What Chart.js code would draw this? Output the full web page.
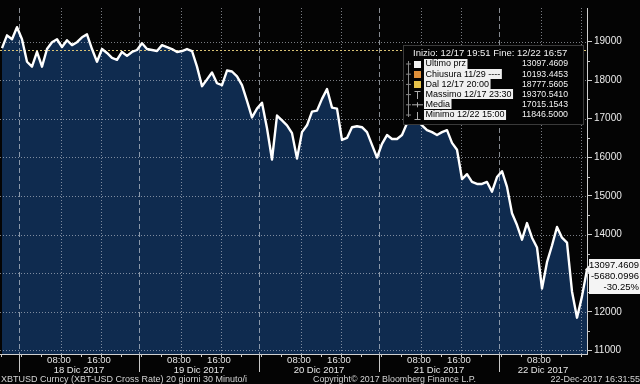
<!DOCTYPE html>
<html>
<head>
<meta charset="utf-8">
<script src="https://cdn.jsdelivr.net/npm/chart.js@4.4.1/dist/chart.umd.min.js"></script>
<style>
html,body{margin:0;padding:0;background:#000;}
canvas{display:block;}
</style>
</head>
<body>
<canvas id="c" width="640" height="384"></canvas>
<script>
// ---- data ----
const startHour = -3.8; // hours relative to 18 Dic 2017 00:00, one value per hour
const prices = [
  18830, 19160, 19058, 19370, 19058, 18476, 18349, 18729, 18349, 18805,
  18982, 19058, 18856, 19033, 18906, 18982, 19109, 19185, 18805, 18476,
  18805, 18704, 18577, 18527, 18729, 18628, 18729, 18780, 18957, 18805,
  18780, 18754, 18906, 18856, 18805, 18729, 18754, 18805, 18754, 18349,
  17843, 18020, 18197, 17919, 17868, 18248, 18223, 18096, 17868, 17463,
  17033, 17261, 17413, 16754, 15944, 17083, 16957, 16830, 16627, 15969,
  16653, 16830, 17185, 17210, 17514, 17767, 17286, 17261, 16450, 16501,
  16780, 16805, 16780, 16653, 16324, 15995, 16349, 16577, 16476, 16476,
  16577, 16881, 17033, 16957, 16830, 16704, 16653, 16577, 16653, 16704,
  16375, 16197, 15438, 15564, 15362, 15311, 15311, 15362, 15109, 15489,
  15640, 15235, 14551, 14247, 13867, 14298, 13918, 13665, 12602, 13285,
  13716, 14197, 13918, 13792, 12526, 11847, 12399, 13097
];
const yTicks = [11000, 12000, 13000, 14000, 15000, 16000, 17000, 18000, 19000];
const dayLabels = ['18 Dic 2017', '19 Dic 2017', '20 Dic 2017', '21 Dic 2017', '22 Dic 2017'];
const timeTicks = [['08:00', 8], ['16:00', 16]];
const legendHeader = 'Inizio: 12/17 19:51 Fine: 12/22 16:57';
const legendLabels = ['Ultimo prz', 'Chiusura 11/29 ----', 'Dal 12/17 20:00', 'Massimo 12/17 23:30', 'Media', 'Minimo 12/22 15:00'];
const legendValues = [13097.4609, 10193.4453, 18777.5605, 19370.5410, 17015.1543, 11846.5000];
const footerLeft = 'XBTUSD Curncy (XBT-USD Cross Rate) 20 giorni 30 Minuto/i';
const footerMid = 'Copyright\u00A9 2017 Bloomberg Finance L.P.';
const footerRight = '22-Dec-2017 16:31:55';

const lastPrice = legendValues[0];
const refLevel = legendValues[2];
const change = lastPrice - refLevel;
const changePct = change / refLevel * 100;

const points = prices.map((v, i) => ({x: startHour + i, y: v}));

const FONT = '"Liberation Sans", Arial, sans-serif';

const bbg = {
  id: 'bbg',
  beforeDraw(chart) {
    const ctx = chart.ctx;
    ctx.save();
    ctx.fillStyle = '#040404';
    ctx.fillRect(0, 0, chart.width, chart.height);
    ctx.restore();
  },
  afterDatasetDraw(chart, args) {
    if (args.index !== 1) return;
    const {ctx, chartArea: a, scales: {x, y}} = chart;
    ctx.save();
    ctx.beginPath();
    ctx.rect(a.left, a.top, a.right - a.left, a.bottom - a.top);
    ctx.clip();
    ctx.lineWidth = 1;
    ctx.strokeStyle = 'rgba(200,205,215,0.6)';
    ctx.setLineDash([1, 2]);
    yTicks.forEach(v => {
      const py = Math.round(y.getPixelForValue(v)) + 0.5;
      ctx.beginPath(); ctx.moveTo(a.left, py); ctx.lineTo(a.right, py); ctx.stroke();
    });
    for (let d = 0; d < dayLabels.length; d++) {
      timeTicks.forEach(t => {
        const h = d * 24 + t[1];
        if (h > x.max) return;
        const px = Math.round(x.getPixelForValue(h)) + 0.5;
        ctx.beginPath(); ctx.moveTo(px, a.top); ctx.lineTo(px, a.bottom); ctx.stroke();
      });
    }
    ctx.strokeStyle = 'rgba(205,210,220,0.65)';
    ctx.setLineDash([5, 3]);
    for (let d = 0; d < dayLabels.length; d++) {
      const px = Math.round(x.getPixelForValue(d * 24 - 0.4)) + 0.5;
      ctx.beginPath(); ctx.moveTo(px, a.top); ctx.lineTo(px, a.bottom); ctx.stroke();
    }
    ctx.strokeStyle = '#d9c274';
    ctx.setLineDash([2, 2]);
    const ry = Math.round(y.getPixelForValue(refLevel)) + 0.5;
    ctx.beginPath(); ctx.moveTo(a.left, ry); ctx.lineTo(a.right, ry); ctx.stroke();
    ctx.restore();
  },
  afterDraw(chart) {
    const {ctx, chartArea: a, scales: {x, y}} = chart;
    ctx.save();
    ctx.strokeStyle = '#c8c8c8';
    ctx.lineWidth = 1;
    for (let i = 0; i < yTicks.length - 1; i++) {
      const py = Math.round(y.getPixelForValue((yTicks[i] + yTicks[i + 1]) / 2)) + 0.5;
      ctx.beginPath(); ctx.moveTo(a.right, py); ctx.lineTo(a.right + 3, py); ctx.stroke();
    }
    for (let h = -4; h <= x.max; h += 4) {
      const px = Math.round(x.getPixelForValue(h)) + 0.5;
      if (px < a.left) continue;
      ctx.beginPath(); ctx.moveTo(px, a.bottom); ctx.lineTo(px, a.bottom + 3); ctx.stroke();
    }
    for (let d = 0; d < dayLabels.length; d++) {
      const px = Math.round(x.getPixelForValue(d * 24 - 0.4)) + 0.5;
      ctx.beginPath(); ctx.moveTo(px, a.bottom); ctx.lineTo(px, a.bottom + 18); ctx.stroke();
    }
    ctx.fillStyle = '#e6e6e6';
    ctx.font = '9.5px ' + FONT;
    ctx.textAlign = 'center';
    ctx.textBaseline = 'middle';
    for (let d = 0; d < dayLabels.length; d++) {
      timeTicks.forEach(t => {
        const h = d * 24 + t[1];
        if (h > x.max - 3) return;
        ctx.fillText(t[0], x.getPixelForValue(h) - 2, a.bottom + 6.5);
      });
      const s = x.getPixelForValue(d * 24 - 0.4);
      const e = Math.min(x.getPixelForValue((d + 1) * 24 - 0.4), a.right);
      ctx.fillText(dayLabels[d], (s + e) / 2, a.bottom + 16.5);
    }
    ctx.fillStyle = '#d4d4d4';
    ctx.font = '9px ' + FONT;
    ctx.textAlign = 'left';
    ctx.fillText(footerLeft, 1, 379.5, 248);
    ctx.fillText(footerMid, 313, 379.5, 163);
    ctx.textAlign = 'right';
    ctx.fillText(footerRight, 640, 379.5, 100);

    // legend box
    const bx = 403, by = 45, bw = 180, bh = 79;
    ctx.fillStyle = '#030303';
    ctx.fillRect(bx, by, bw, bh);
    ctx.strokeStyle = '#3a3a3a';
    ctx.setLineDash([]);
    ctx.strokeRect(bx + 0.5, by + 0.5, bw, bh);
    ctx.font = '9.5px ' + FONT;
    ctx.textAlign = 'left';
    ctx.fillStyle = '#f2f2f2';
    ctx.fillText(legendHeader, 413, 53.5, 164);
    ctx.strokeStyle = '#8a8a8a';
    ctx.beginPath(); ctx.moveTo(408.5, 61); ctx.lineTo(408.5, 117); ctx.stroke();
    ctx.font = '9px ' + FONT;
    for (let i = 0; i < legendLabels.length; i++) {
      const ry = 63.5 + i * 10.2;
      ctx.strokeStyle = '#8a8a8a';
      ctx.beginPath(); ctx.moveTo(406, ry + 0.5); ctx.lineTo(411, ry + 0.5); ctx.stroke();
      const ix = 414, iy = Math.round(ry) - 3;
      if (i === 0) { ctx.fillStyle = '#f4f4f4'; ctx.fillRect(ix, iy, 7, 7); }
      else if (i === 1) { ctx.fillStyle = '#e0903a'; ctx.fillRect(ix, iy, 7, 7); }
      else if (i === 2) { ctx.fillStyle = '#e6c24a'; ctx.fillRect(ix, iy, 7, 7); }
      else {
        ctx.strokeStyle = '#b0b0b0';
        ctx.beginPath();
        const cx = ix + 3.5;
        if (i === 3) { ctx.moveTo(cx - 3, iy + 0.5); ctx.lineTo(cx + 3, iy + 0.5); ctx.moveTo(cx, iy); ctx.lineTo(cx, iy + 8); }
        if (i === 4) { ctx.moveTo(ix - 2, ry + 0.5); ctx.lineTo(ix + 9, ry + 0.5); ctx.moveTo(cx, ry - 2); ctx.lineTo(cx, ry + 3); }
        if (i === 5) { ctx.moveTo(cx - 3, iy + 7.5); ctx.lineTo(cx + 3, iy + 7.5); ctx.moveTo(cx, iy); ctx.lineTo(cx, iy + 8); }
        ctx.stroke();
      }
      const w = ctx.measureText(legendLabels[i]).width;
      ctx.fillStyle = '#f0f0f0';
      ctx.fillRect(424, Math.round(ry) - 5, w + 3, 10);
      ctx.fillStyle = '#000';
      ctx.fillText(legendLabels[i], 425.5, ry + 0.5);
      ctx.fillStyle = '#f2f2f2';
      ctx.textAlign = 'right';
      ctx.fillText(legendValues[i].toFixed(4), 568, ry + 0.5, 46);
      ctx.textAlign = 'left';
    }

    // last price box
    const ly = y.getPixelForValue(lastPrice);
    ctx.fillStyle = '#f4f4f4';
    ctx.fillRect(589, 259, 51, 35);
    ctx.beginPath();
    ctx.moveTo(589, ly - 4); ctx.lineTo(585, ly); ctx.lineTo(589, ly + 4); ctx.closePath(); ctx.fill();
    ctx.fillStyle = '#000';
    ctx.textAlign = 'right';
    ctx.font = '9.5px ' + FONT;
    ctx.fillText(lastPrice.toFixed(4), 639, 265.5, 50);
    ctx.fillText(change.toFixed(4), 639, 276.5, 50);
    ctx.fillText(changePct.toFixed(2) + '%', 639, 287.5, 50);
    ctx.restore();
  }
};

new Chart(document.getElementById('c'), {
  type: 'line',
  data: {
    datasets: [
      {
        data: points,
        borderColor: '#ffffff',
        borderWidth: 2.4,
        borderJoinStyle: 'round',
        pointRadius: 0,
        fill: false,
        tension: 0
      },
      {
        data: points,
        borderWidth: 0,
        borderColor: 'rgba(0,0,0,0)',
        backgroundColor: '#0f2b4f',
        pointRadius: 0,
        fill: 'start',
        tension: 0
      }
    ]
  },
  options: {
    responsive: false,
    animation: false,
    devicePixelRatio: 1,
    layout: {padding: 0},
    plugins: {legend: {display: false}, tooltip: {enabled: false}, title: {display: false}},
    scales: {
      x: {
        type: 'linear',
        position: 'bottom',
        min: -4.2,
        max: 113.2,
        ticks: {display: false},
        grid: {display: false},
        border: {display: true, color: '#cfcfcf', width: 1},
        afterFit(s) { s.height = 30; }
      },
      y: {
        type: 'linear',
        position: 'right',
        min: 10906,
        max: 19868,
        afterBuildTicks(s) { s.ticks = yTicks.map(v => ({value: v})); },
        ticks: {
          autoSkip: false,
          color: '#ececec',
          font: {family: FONT, size: 10},
          padding: 2,
          callback: v => String(v)
        },
        grid: {display: true, drawOnChartArea: false, drawTicks: true, tickLength: 5, tickColor: '#cfcfcf'},
        border: {display: true, color: '#cfcfcf', width: 1},
        afterFit(s) { s.width = 53; }
      }
    }
  },
  plugins: [bbg]
});
</script>
</body>
</html>
